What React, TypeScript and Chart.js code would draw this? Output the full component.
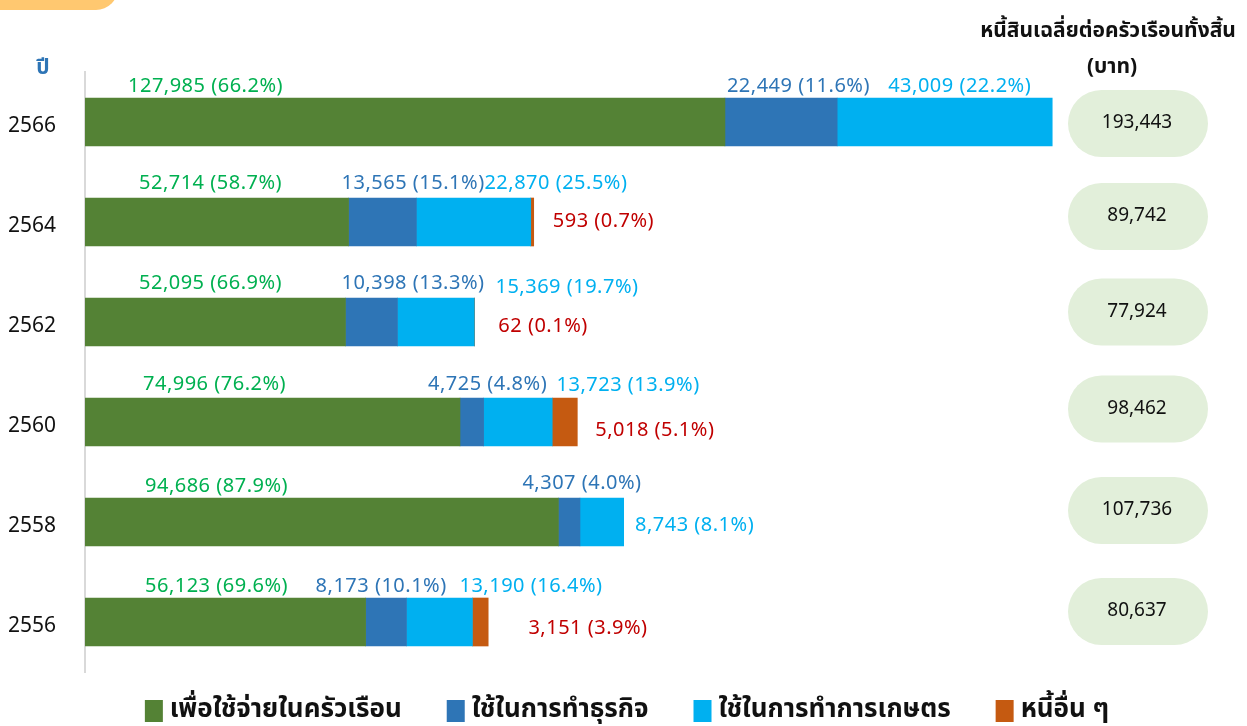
import React, { useEffect, useRef } from "react";
import { Chart, registerables } from "chart.js";

Chart.register(...registerables);

// ---------- data ----------
const years = ["2566", "2564", "2562", "2560", "2558", "2556"];
const household = [127985, 52714, 52095, 74996, 94686, 56123];
const business = [22449, 13565, 10398, 4725, 4307, 8173];
const agriculture = [43009, 22870, 15369, 13723, 8743, 13190];
const other = [null, 593, 62, 5018, null, 3151];
const householdPct = [66.2, 58.7, 66.9, 76.2, 87.9, 69.6];
const businessPct = [11.6, 15.1, 13.3, 4.8, 4.0, 10.1];
const agriculturePct = [22.2, 25.5, 19.7, 13.9, 8.1, 16.4];
const otherPct = [null, 0.7, 0.1, 5.1, null, 3.9];
const totals = [193443, 89742, 77924, 98462, 107736, 80637];
const seriesNames = [
  "เพื่อใช้จ่ายในครัวเรือน",
  "ใช้ในการทำธุรกิจ",
  "ใช้ในการทำการเกษตร",
  "หนี้อื่น ๆ",
];
const yearTitle = "ปี";
const totalTitle = ["หนี้สินเฉลี่ยต่อครัวเรือนทั้งสิ้น", "(บาท)"];

// ---------- styles / layout ----------
const barColors = ["#548235", "#2E75B6", "#00B0F0", "#C55A11"];
const labelColors = ["#00B050", "#2E75B6", "#00B0F0", "#C00000"];
const FONT = "Tahoma, 'Noto Sans Thai', 'Noto Sans', 'DejaVu Sans', sans-serif";
// label offsets [dx from segment start, dy from bar centre] per series, per row
const labelDx = [
  [43, 54, 54, 58, 60, 60],
  [2, -7, -4, -32, -36, -50],
  [51, 68, 98, 73, 55, 53],
  [0, 22, 24, 43, 0, 56],
];
const labelDy = [
  [-34, -37, -37, -36, -34, -34],
  [-34, -37, -37, -36, -37, -34],
  [-34, -37, -33, -35, 5, -34],
  [0, 1, 6, 10, 0, 8],
];
// vertical offset of total pills relative to bar centre
const pillDy = [1.5, -5.5, -10, -13, -11.5, -10.5];

const fmt = (v: number) => v.toLocaleString("en-US");

const overlayPlugin = {
  id: "overlay",
  afterDraw(chart: any) {
    const ctx = chart.ctx;
    const xs = chart.scales.x;
    const ys = chart.scales.y;
    ctx.save();

    // orange tab top-left
    ctx.fillStyle = "#FFC870";
    ctx.beginPath();
    (ctx as any).roundRect(-40, -40, 158, 50, 22);
    ctx.fill();

    // value labels
    const values = [household, business, agriculture, other];
    const pcts = [householdPct, businessPct, agriculturePct, otherPct];
    ctx.textBaseline = "middle";
    ctx.textAlign = "left";
    ctx.font = `20px ${FONT}`;
    (ctx as any).letterSpacing = "0.5px";
    for (let s = 0; s < 4; s++) {
      for (let i = 0; i < years.length; i++) {
        const v = values[s][i];
        const p = pcts[s][i];
        if (v == null || p == null) continue;
        let start = 0;
        for (let k = 0; k < s; k++) start += (values[k][i] as number) || 0;
        const x = xs.getPixelForValue(start) + labelDx[s][i];
        const y = ys.getPixelForValue(i) + labelDy[s][i];
        ctx.fillStyle = labelColors[s];
        ctx.fillText(`${fmt(v)} (${p.toFixed(1)}%)`, x, y);
      }
    }
    (ctx as any).letterSpacing = "0px";

    // totals pills
    for (let i = 0; i < totals.length; i++) {
      const cy = ys.getPixelForValue(i) + pillDy[i];
      ctx.fillStyle = "#E2EFDA";
      ctx.beginPath();
      (ctx as any).roundRect(1068, cy - 33.5, 140, 67, 33.5);
      ctx.fill();
      ctx.fillStyle = "#111111";
      ctx.textAlign = "center";
      ctx.font = `19px ${FONT}`;
      ctx.fillText(fmt(totals[i]), 1137, cy + 1);
    }

    // titles
    ctx.fillStyle = "#111111";
    ctx.font = `bold 21px ${FONT}`;
    ctx.textAlign = "center";
    ctx.fillText(totalTitle[0], 1108, 33);
    ctx.fillText(totalTitle[1], 1112, 69);
    ctx.fillStyle = "#2E75B6";
    ctx.fillText(yearTitle, 43, 70);

    // legend
    ctx.font = `bold 26px ${FONT}`;
    const widths = seriesNames.map((n) => ctx.measureText(n).width);
    const box = 18, gapBT = 7, gapItem = 45;
    const total = widths.reduce((a, b) => a + b, 0) + 4 * (box + gapBT) + 3 * gapItem;
    let lx = 627 - total / 2;
    const ly = 711;
    ctx.textAlign = "left";
    for (let s = 0; s < 4; s++) {
      ctx.fillStyle = barColors[s];
      ctx.fillRect(lx, ly - 11, box, 22);
      ctx.fillStyle = "#111111";
      ctx.fillText(seriesNames[s], lx + box + gapBT, ly + 1);
      lx += box + gapBT + widths[s] + gapItem;
    }
    ctx.restore();
  },
};

export default function App() {
  const ref = useRef<HTMLCanvasElement | null>(null);
  useEffect(() => {
    document.body.style.margin = "0";
    const canvas = ref.current;
    if (!canvas) return;
    const datasets = [household, business, agriculture, other].map((d, s) => ({
      label: seriesNames[s],
      data: d,
      backgroundColor: barColors[s],
      borderWidth: 0,
      barThickness: 48,
    }));
    const chart = new Chart(canvas, {
      type: "bar",
      data: { labels: years, datasets },
      options: {
        indexAxis: "y",
        responsive: false,
        animation: false,
        devicePixelRatio: 1,
        layout: { padding: { left: 8, top: 72, right: 162, bottom: 54 } },
        plugins: { legend: { display: false }, tooltip: { enabled: false } },
        scales: {
          x: { stacked: true, min: 0, max: 200000, display: false },
          y: {
            stacked: true,
            grid: { display: false },
            border: { display: true, color: "#D9D9D9", width: 2 },
            ticks: {
              crossAlign: "far",
              color: "#111111",
              font: { family: FONT, size: 21 },
              padding: 0,
              labelOffset: 6,
            },
            afterFit(scale: any) {
              scale.width = 77;
            },
          },
        },
      },
      plugins: [overlayPlugin],
    } as any);
    return () => chart.destroy();
  }, []);
  return (
    <div style={{ width: 1247, height: 726, background: "#fff" }}>
      <canvas ref={ref} width={1247} height={726} />
    </div>
  );
}
